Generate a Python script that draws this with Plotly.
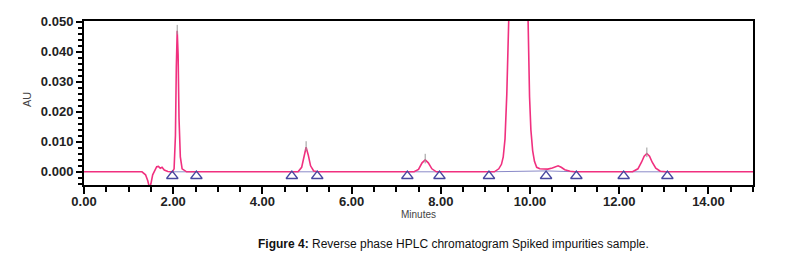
import plotly.graph_objects as go

# Chromatogram trace (minutes, AU)
time_min = [0.00, 1.30, 1.38, 1.43, 1.47, 1.50, 1.54, 1.58, 1.63, 1.67, 1.71, 1.75, 1.80, 1.88, 1.98,
            2.02, 2.05, 2.07, 2.09, 2.11, 2.13, 2.16, 2.20, 2.30,
            4.80, 4.88, 4.93, 4.98, 5.03, 5.08, 5.15, 5.25,
            7.40, 7.50, 7.58, 7.65, 7.72, 7.80, 7.90,
            9.20, 9.30, 9.36, 9.40, 9.44, 9.48, 9.52, 9.60, 9.70, 9.75, 9.80, 9.88, 9.93,
            9.96, 9.99, 10.02, 10.06, 10.10, 10.15, 10.22, 10.30, 10.40, 10.50, 10.58, 10.63,
            10.70, 10.78, 10.90, 11.00,
            12.30, 12.42, 12.50, 12.56, 12.62, 12.68, 12.74, 12.82, 12.92, 13.05, 15.00]
au = [0.0000, 0.0000, -0.0010, -0.0030, -0.0055, -0.0040, -0.0010, 0.0004, 0.0017, 0.0018, 0.0012, 0.0015, 0.0006, 0.0001, 0.0000,
      0.0010, 0.0120, 0.0350, 0.0470, 0.0390, 0.0180, 0.0050, 0.0010, 0.0000,
      0.0000, 0.0015, 0.0050, 0.0082, 0.0055, 0.0020, 0.0003, 0.0000,
      0.0000, 0.0008, 0.0030, 0.0040, 0.0030, 0.0010, 0.0000,
      0.0000, 0.0010, 0.0025, 0.0050, 0.0110, 0.0260, 0.0550, 0.1200, 0.1700, 0.1800, 0.1700, 0.1100, 0.0650,
      0.0420, 0.0250, 0.0140, 0.0070, 0.0035, 0.0015, 0.0010, 0.0009, 0.0009, 0.0013, 0.0019, 0.0020,
      0.0015, 0.0007, 0.0002, 0.0000,
      0.0000, 0.0010, 0.0032, 0.0052, 0.0061, 0.0052, 0.0032, 0.0012, 0.0002, 0.0000, 0.0000]

# Baseline integration marks (triangles) and baseline segments
mark_times = [1.98, 2.52, 4.66, 5.23, 7.25, 7.97, 9.08, 10.36, 11.04, 12.10, 13.08]
mark_au = [-0.0014] * len(mark_times)
seg_start = [1.98, 4.66, 7.25, 9.08, 10.36, 12.10]
seg_end = [2.52, 5.23, 7.97, 10.36, 11.04, 13.08]
seg_start_au = [0.0000, 0.0000, 0.0000, 0.0000, 0.0003, 0.0000]
seg_end_au = [0.0000, 0.0000, 0.0000, 0.0003, 0.0000, 0.0000]

# Apex marks
apex_times = [2.09, 4.98, 7.65, 12.62]
apex_au = [0.0470, 0.0082, 0.0040, 0.0061]

x_ticks = [0, 2, 4, 6, 8, 10, 12, 14]
x_labels = ["0.00", "2.00", "4.00", "6.00", "8.00", "10.00", "12.00", "14.00"]
y_ticks = [0.0, 0.01, 0.02, 0.03, 0.04, 0.05]
y_labels = ["0.000", "0.010", "0.020", "0.030", "0.040", "0.050"]

pink = "#f0307f"
navy = "#4848a0"

fig = go.Figure()

bx, by = [], []
for s, e, sa, ea in zip(seg_start, seg_end, seg_start_au, seg_end_au):
    bx += [s, e, None]
    by += [sa, ea, None]
fig.add_trace(go.Scatter(x=bx, y=by, mode="lines", line=dict(color="#8a8ac8", width=1),
                         hoverinfo="skip", showlegend=False))

fig.add_trace(go.Scatter(x=time_min, y=au, mode="lines", line=dict(color=pink, width=1.6),
                         showlegend=False))

vx, vy = [], []
for t, a in zip(apex_times, apex_au):
    vx += [t, t, None]
    vy += [a - 0.0012, a + 0.0020, None]
fig.add_trace(go.Scatter(x=vx, y=vy, mode="lines", line=dict(color="#999999", width=1),
                         hoverinfo="skip", showlegend=False))

fig.add_trace(go.Scatter(x=mark_times, y=mark_au, mode="markers",
                         marker=dict(symbol="triangle-up-open", size=10, color=navy,
                                     line=dict(width=1.3, color=navy)),
                         showlegend=False))

# Page body has an 8px offset, so figure coordinates = window coordinates - 8
L, R, T, B = 76, 55, 13, 81
W, H = 800, 258
plot_w = W - L - R
plot_h = H - T - B

tickfont = dict(size=13, family="Liberation Sans, Arial, sans-serif", color="#222222", weight="bold")

fig.update_layout(
    width=W, height=H,
    margin=dict(l=L, r=R, t=T, b=B, autoexpand=False),
    paper_bgcolor="white", plot_bgcolor="white",
    font=dict(family="Liberation Sans, Arial, sans-serif", color="#222222"),
    xaxis=dict(range=[0, 15], tickmode="array", tickvals=x_ticks, ticktext=x_labels,
               ticks="outside", ticklen=7, tickwidth=2, tickcolor="black", ticklabelstandoff=-4,
               minor=dict(dtick=0.5, ticks="outside", ticklen=5, tickwidth=2, tickcolor="black"),
               showline=True, linewidth=2, linecolor="black", mirror=True,
               showgrid=False, zeroline=False, tickfont=tickfont),
    yaxis=dict(range=[-0.0044, 0.0503], tickmode="array", tickvals=y_ticks, ticktext=y_labels,
               ticks="outside", ticklen=6, tickwidth=2, tickcolor="black",
               minor=dict(dtick=0.002, tick0=0, ticks="outside", ticklen=4, tickwidth=2, tickcolor="black"),
               showline=True, linewidth=2, linecolor="black", mirror=True,
               showgrid=False, zeroline=False, tickfont=tickfont),
    annotations=[
        dict(text="AU", x=(27 - 8 - L) / plot_w, y=(H - B - (100 - 8)) / plot_h,
             xref="paper", yref="paper", showarrow=False, xanchor="center", yanchor="middle",
             textangle=-90, font=dict(size=11, color="#444444")),
        dict(text="Minutes", x=(418 - 8 - L) / plot_w, y=(H - B - (214 - 8)) / plot_h,
             xref="paper", yref="paper", showarrow=False, xanchor="center", yanchor="middle",
             font=dict(size=10, color="#444444")),
        dict(text="<b>Figure 4:</b> Reverse phase HPLC chromatogram Spiked impurities sample.",
             x=(453 - 8 - L) / plot_w, y=(H - B - (244 - 8)) / plot_h,
             xref="paper", yref="paper", showarrow=False,
             font=dict(size=12, color="#111111"), xanchor="center", yanchor="middle"),
    ],
)

fig.write_html("out.html")
